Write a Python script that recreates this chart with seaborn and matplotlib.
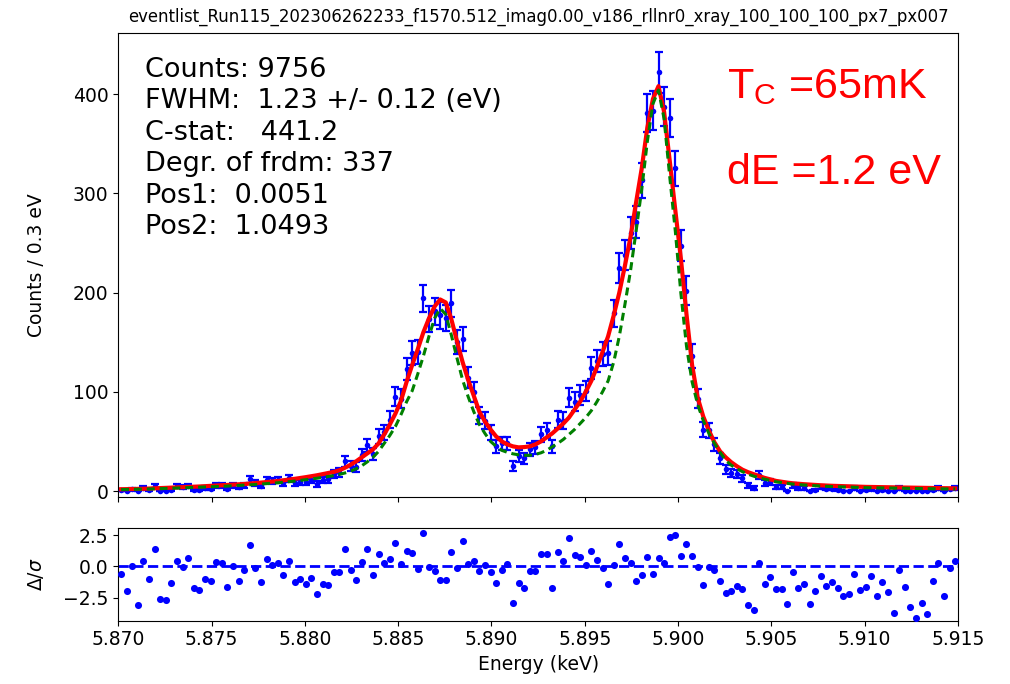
import numpy as np
import matplotlib
matplotlib.use("Agg")
import matplotlib.pyplot as plt
import seaborn as sns

# ---------------- data ----------------
title = "eventlist_Run115_202306262233_f1570.512_imag0.00_v186_rllnr0_xray_100_100_100_px7_px007"
bin_start_keV = 5.870
bin_width_keV = 0.0003  # 0.3 eV bins
n_bins = 150

counts = [1, 0, 2, 0, 3, 1, 5, 0, 0, 1,
          5, 4, 5, 1, 1, 3, 2, 6, 6, 2,
          6, 4, 6, 12, 8, 5, 11, 10, 11, 8,
          13, 8, 9, 9, 11, 7, 11, 12, 17, 19,
          30, 25, 24, 36, 46, 37, 55, 59, 72, 95,
          93, 123, 139, 140, 194, 173, 181, 177, 174, 189,
          150, 153, 114, 100, 76, 71, 59, 45, 48, 48,
          25, 35, 33, 42, 44, 57, 61, 45, 72, 71,
          94, 90, 97, 101, 124, 131, 138, 139, 179, 225,
          238, 260, 271, 313, 381, 383, 422, 387, 376, 325,
          247, 202, 136, 93, 62, 61, 47, 33, 22, 18,
          17, 13, 6, 3, 16, 8, 9, 4, 4, 0,
          6, 3, 3, 0, 1, 4, 2, 2, 1, 0,
          0, 3, 0, 1, 2, 0, 1, 0, 0, 3,
          0, 0, 0, 0, 0, 1, 3, 0, 2, 3]

fit_model = [1.8, 1.9, 2.0, 2.2, 2.3, 2.5, 2.7, 3.0, 3.2, 3.5,
             3.7, 3.9, 4.1, 4.4, 4.6, 4.9, 5.1, 5.4, 5.7, 6.0,
             6.4, 6.7, 7.1, 7.5, 8.0, 8.5, 9.0, 9.5, 10.1, 10.8,
             11.5, 12.3, 13.1, 14.0, 14.9, 15.9, 17.0, 18.1, 19.3, 21.0,
             23.5, 26.5, 30, 34, 38, 42, 48, 57, 67, 78,
             91, 110, 127, 143, 160, 174, 186, 193, 190, 173,
             151, 130, 112, 96, 80, 70, 62, 55, 50, 47,
             45, 44, 44.3, 45, 47, 50, 54, 58, 63, 68,
             74, 82, 90, 100, 111, 125, 140, 156, 177, 200,
             227, 256, 291, 325, 366, 395, 408, 382, 333, 283,
             234, 178, 127, 94, 75, 61, 49, 40, 34, 29,
             25, 21.5, 19, 17, 15, 13.2, 11.7, 10.2, 9.3, 8.5,
             7.8, 7.3, 6.9, 6.5, 6.1, 5.8, 5.5, 5.3, 5.1, 4.9,
             4.7, 4.5, 4.3, 4.2, 4.1, 4.0, 3.9, 3.8, 3.7, 3.6,
             3.5, 3.4, 3.3, 3.1, 3.0, 2.9, 2.85, 2.8, 2.75, 2.7]

line_model = [1.5, 1.6, 1.7, 1.8, 1.9, 2.0, 2.2, 2.4, 2.6, 2.8,
              3.0, 3.2, 3.4, 3.6, 3.8, 4.0, 4.2, 4.4, 4.7, 5.0,
              5.3, 5.6, 5.9, 6.2, 6.6, 7.0, 7.4, 7.8, 8.3, 8.8,
              9.4, 10.0, 10.7, 11.4, 12.1, 12.9, 13.7, 14.6, 15.6, 16.8,
              18.2, 20, 22.5, 25.5, 29.5, 34, 40, 48, 56, 65,
              77, 90, 101, 118, 136, 156, 174, 184, 178, 157,
              134, 112, 95, 80, 67, 58, 50, 45, 41, 39,
              37.5, 36.5, 36, 36, 37, 38.5, 41, 44.5, 48, 52,
              57, 62, 68, 74, 81, 90, 100, 111, 130, 156,
              188, 222, 262, 304, 352, 390, 404, 375, 317, 262,
              199, 146, 110, 87, 71, 58, 48, 39, 31, 26,
              22.5, 19.5, 17, 15, 13.2, 11.9, 10.6, 9.3, 8.5, 7.7,
              7.0, 6.5, 6.1, 5.7, 5.3, 5.0, 4.7, 4.5, 4.3, 4.1,
              3.9, 3.7, 3.5, 3.4, 3.3, 3.2, 3.1, 3.0, 2.9, 2.8,
              2.7, 2.6, 2.5, 2.4, 2.3, 2.25, 2.2, 2.15, 2.1, 2.05]

residuals = [-0.64, -1.96, 0.0, -3.1, 0.4, -1.0, 1.37, -2.6, -2.7, -1.3,
             0.46, -0.08, 0.7, -1.77, -1.88, -1.05, -1.18, 0.38, 0.24, -1.66,
             0.05, -1.18, -0.32, 1.69, -0.13, -1.29, 0.56, 0.08, 0.27, -0.72,
             0.46, -1.23, -1.05, -1.39, -0.97, -2.2, -1.45, -1.53, -0.48, -0.48,
             1.37, -0.3, -1.13, 0.35, 1.37, -0.7, 0.97, 0.3, 0.56, 1.88,
             0.16, 1.26, 1.07, -0.24, 2.7, -0.08, -0.4, -1.13, -1.13, 1.18,
             -0.1, 2.04, 0.16, 0.43, -0.4, 0.1, -0.43, -1.37, -0.3, 0.21,
             -2.95, -1.34, -1.72, -0.4, -0.38, 1.0, 1.0, -1.72, 1.13, 0.4,
             2.28, 0.91, 0.72, 0.08, 1.2, 0.54, -0.13, -1.39, 0.13, 1.8,
             0.7, 0.24, -1.2, -0.67, 0.78, -0.62, 0.67, 0.27, 2.36, 2.47,
             0.86, 1.77, 0.8, -0.05, -1.47, -0.05, -0.3, -1.18, -2.1, -1.96,
             -1.6, -1.8, -3.1, -3.5, 0.24, -1.39, -0.83, -1.85, -1.85, -3.0,
             -0.46, -1.72, -1.42, -3.03, -1.98, -0.75, -1.55, -1.26, -1.77, -2.36,
             -2.2, -0.64, -1.88, -1.66, -0.78, -2.39, -1.23, -2.06, -3.7, -0.27,
             -1.69, -3.27, -4.1, -2.92, -3.78, -1.18, 0.27, -2.41, -0.16, 0.43]

info_lines = ["Counts: 9756",
              "FWHM:  1.23 +/- 0.12 (eV)",
              "C-stat:   441.2",
              "Degr. of frdm: 337",
              "Pos1:  0.0051",
              "Pos2:  1.0493"]
xticks = [5.870, 5.875, 5.880, 5.885, 5.890, 5.895, 5.900, 5.905, 5.910, 5.915]
yticks_main = [0, 100, 200, 300, 400]
yticks_res = [-2.5, 0.0, 2.5]

# ---------------- figure ----------------
W, H = 1010, 684
fig = plt.figure(figsize=(W / 100, H / 100), dpi=100)

def ax_rect(l, t, r, b):
    return [l / W, 1 - b / H, (r - l) / W, (b - t) / H]

ax = fig.add_axes(ax_rect(118.3, 33, 958, 496.7))
axr = fig.add_axes(ax_rect(118.3, 528, 958, 620.7), sharex=ax)

energy = bin_start_keV + bin_width_keV * (np.arange(n_bins) + 0.5)
cnt = np.array(counts, dtype=float)
err = np.sqrt(cnt)

ax.errorbar(energy, cnt, yerr=err, fmt='none', ecolor='blue',
            elinewidth=1.6, capsize=2.6, capthick=1.6, zorder=2)
sns.scatterplot(x=energy, y=cnt, ax=ax, color='blue', s=16,
                linewidth=0, zorder=3, legend=False)
sns.lineplot(x=energy, y=fit_model, ax=ax, color='red', lw=3.0,
             zorder=4, legend=False)
sns.lineplot(x=energy, y=line_model, ax=ax, color='green', lw=2.2,
             zorder=5, legend=False)
ax.lines[-1].set_dashes((2.6, 1.6))

ax.set_xlim(5.870, 5.915)
ax.set_ylim(-5.7, 461.5)
ax.set_yticks(yticks_main)
ax.set_xticks(xticks)
ax.tick_params(axis='x', labelbottom=False)
ax.tick_params(labelsize=13.5)
ax.set_ylabel("Counts / 0.3 eV", fontsize=13.5)
ax.yaxis.set_label_coords((46 - 118.3) / 839.7, 0.5)
ax.set_xlabel("")
ax.set_title(title, fontsize=11.9, pad=8)

for i, line in enumerate(info_lines):
    ax.text(145 / W, 1 - (76.7 + 31.5 * i) / H, line, transform=fig.transFigure,
            fontsize=19.5, va='baseline', ha='left', color='black')

fig.text(727 / W, 1 - 98 / H, r"T$_\mathregular{C}$ =65mK", color='red', fontsize=31,
         family='Liberation Sans', va='baseline', ha='left')
fig.text(727 / W, 1 - 184 / H, "dE =1.2 eV", color='red', fontsize=31,
         family='Liberation Sans', va='baseline', ha='left')

sns.scatterplot(x=energy, y=residuals, ax=axr, color='blue', s=26,
                linewidth=0, legend=False, zorder=3)
axr.axhline(0.0, color='blue', ls='--', lw=2.0, zorder=2)
axr.set_ylim(-4.35, 3.06)
axr.set_yticks(yticks_res)
axr.set_xticks(xticks)
axr.set_xticklabels([f"{t:.3f}" for t in xticks])
axr.tick_params(labelsize=13.5)
axr.set_xlabel("Energy (keV)", fontsize=13.5)
axr.set_ylabel(r"$\Delta/\sigma$", fontsize=13.5)
axr.yaxis.set_label_coords((46 - 118.3) / 839.7, 0.5)
axr.set_xlim(5.870, 5.915)

fig.savefig("out.png", dpi=100)
